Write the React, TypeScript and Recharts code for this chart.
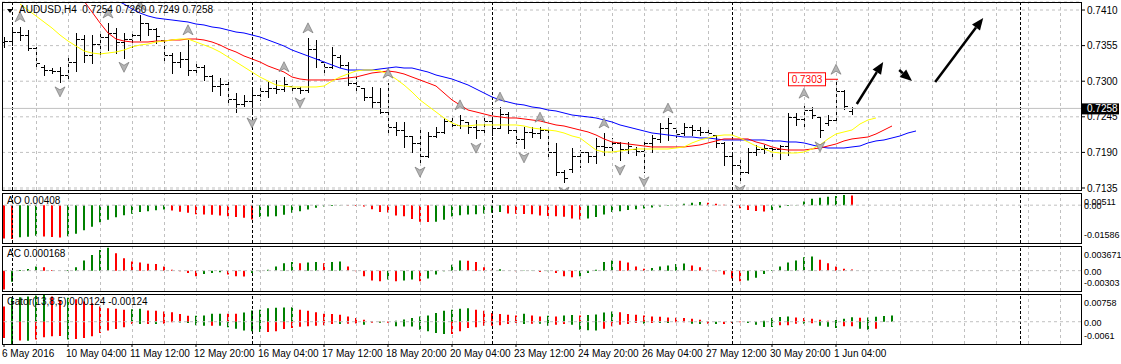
import React from 'react';
import {
  ComposedChart,
  Bar,
  Line,
  Scatter,
  XAxis,
  YAxis,
  CartesianGrid,
  ReferenceLine,
  ReferenceDot,
  Cell,
} from 'recharts';

const FONT = '"Liberation Sans", Arial, sans-serif';
const WIDTH = 1121;
const GREEN = '#008000';
const RED = '#ff0000';
const GRID = '#c0c0c0';

// bar slots: index 0 = 9 May 00:00, one slot per H4 bar
const FIRST_BAR = -1;
const LAST_SLOT = 113;
const X_DOMAIN: [number, number] = [-1.25, 133.625];

const opens = [
  0.7360, 0.7362, 0.7376, 0.7372, 0.7352, 0.7322, 0.7318, 0.7316, 0.7310, 0.7330,
  0.7365, 0.7340, 0.7358, 0.7368, 0.7375, 0.7360, 0.7365, 0.7372, 0.7390, 0.7380,
  0.7364, 0.7340, 0.7330, 0.7335, 0.7318, 0.7322, 0.7308, 0.7292, 0.7295, 0.7272,
  0.7265, 0.7270, 0.7278, 0.7285, 0.7290, 0.7288, 0.7293, 0.7289, 0.7287, 0.7350,
  0.7330, 0.7322, 0.7338, 0.7325, 0.7298, 0.7290, 0.7275, 0.7268, 0.7253, 0.7230,
  0.7225, 0.7215, 0.7205, 0.7185, 0.7215, 0.7222, 0.7238, 0.7232, 0.7237, 0.7230,
  0.7225, 0.7238, 0.7228, 0.7250, 0.7225, 0.7210, 0.7222, 0.7220, 0.7225, 0.7190,
  0.7160, 0.7165, 0.7185, 0.7190, 0.7185, 0.7200, 0.7198, 0.7205, 0.7195, 0.7195,
  0.7192, 0.7205, 0.7210, 0.7228, 0.7228, 0.7220, 0.7230, 0.7225, 0.7222, 0.7217,
  0.7205, 0.7185, 0.7170, 0.7160, 0.7190, 0.7195, 0.7197, 0.7195, 0.7200, 0.7245,
  0.7242, 0.7255, 0.7245, 0.7235, 0.7240, 0.7285, 0.7254,
];
const highs = [
  0.7368, 0.7384, 0.7384, 0.7379, 0.7353, 0.7325, 0.7321, 0.7322, 0.7337, 0.7375,
  0.7371, 0.7371, 0.7375, 0.7390, 0.7382, 0.7375, 0.7376, 0.7402, 0.7390, 0.7382,
  0.7364, 0.7344, 0.7345, 0.7364, 0.7330, 0.7325, 0.7310, 0.7305, 0.7299, 0.7282,
  0.7279, 0.7290, 0.7291, 0.7299, 0.7302, 0.7307, 0.7294, 0.7291, 0.7367, 0.7364,
  0.7330, 0.7353, 0.7341, 0.7330, 0.7307, 0.7290, 0.7291, 0.7290, 0.7297, 0.7237,
  0.7237, 0.7216, 0.7225, 0.7222, 0.7229, 0.7243, 0.7243, 0.7248, 0.7237, 0.7240,
  0.7243, 0.7240, 0.7260, 0.7252, 0.7228, 0.7229, 0.7229, 0.7229, 0.7228, 0.7205,
  0.7163, 0.7197, 0.7194, 0.7191, 0.7212, 0.7220, 0.7212, 0.7206, 0.7206, 0.7198,
  0.7209, 0.7217, 0.7235, 0.7243, 0.7228, 0.7235, 0.7232, 0.7229, 0.7229, 0.7217,
  0.7206, 0.7191, 0.7181, 0.7197, 0.7202, 0.7202, 0.7198, 0.7202, 0.7251, 0.7251,
  0.7266, 0.7260, 0.7245, 0.7248, 0.7303, 0.7286, 0.7260,
];
const lows = [
  0.7353, 0.7356, 0.7364, 0.7348, 0.7322, 0.7310, 0.7313, 0.7299, 0.7305, 0.7317,
  0.7330, 0.7328, 0.7341, 0.7348, 0.7344, 0.7337, 0.7353, 0.7364, 0.7371, 0.7359,
  0.7330, 0.7313, 0.7322, 0.7310, 0.7314, 0.7302, 0.7286, 0.7279, 0.7266, 0.7252,
  0.7262, 0.7251, 0.7271, 0.7276, 0.7282, 0.7286, 0.7286, 0.7282, 0.7283, 0.7322,
  0.7313, 0.7320, 0.7322, 0.7294, 0.7283, 0.7271, 0.7259, 0.7251, 0.7222, 0.7217,
  0.7198, 0.7191, 0.7175, 0.7183, 0.7214, 0.7220, 0.7228, 0.7228, 0.7220, 0.7212,
  0.7217, 0.7217, 0.7228, 0.7220, 0.7205, 0.7197, 0.7214, 0.7212, 0.7181, 0.7155,
  0.7144, 0.7160, 0.7168, 0.7175, 0.7174, 0.7186, 0.7191, 0.7178, 0.7189, 0.7186,
  0.7160, 0.7191, 0.7205, 0.7209, 0.7214, 0.7217, 0.7217, 0.7217, 0.7217, 0.7198,
  0.7171, 0.7160, 0.7147, 0.7158, 0.7186, 0.7189, 0.7181, 0.7181, 0.7186, 0.7232,
  0.7229, 0.7243, 0.7214, 0.7232, 0.7235, 0.7256, 0.7249,
];
const closes = [
  0.7362, 0.7376, 0.7372, 0.7352, 0.7328, 0.7318, 0.7316, 0.7310, 0.7330, 0.7365,
  0.7340, 0.7358, 0.7368, 0.7375, 0.7360, 0.7365, 0.7372, 0.7390, 0.7380, 0.7370,
  0.7340, 0.7330, 0.7335, 0.7318, 0.7322, 0.7308, 0.7292, 0.7295, 0.7272, 0.7265,
  0.7270, 0.7278, 0.7285, 0.7290, 0.7288, 0.7295, 0.7289, 0.7287, 0.7350, 0.7335,
  0.7322, 0.7340, 0.7325, 0.7298, 0.7292, 0.7275, 0.7268, 0.7253, 0.7230, 0.7225,
  0.7215, 0.7205, 0.7185, 0.7215, 0.7222, 0.7238, 0.7232, 0.7240, 0.7230, 0.7225,
  0.7238, 0.7228, 0.7250, 0.7225, 0.7210, 0.7222, 0.7220, 0.7225, 0.7190, 0.7160,
  0.7150, 0.7185, 0.7190, 0.7185, 0.7200, 0.7198, 0.7205, 0.7195, 0.7200, 0.7192,
  0.7205, 0.7212, 0.7228, 0.7235, 0.7218, 0.7230, 0.7225, 0.7222, 0.7220, 0.7205,
  0.7185, 0.7170, 0.7160, 0.7190, 0.7195, 0.7197, 0.7195, 0.7200, 0.7245, 0.7242,
  0.7255, 0.7248, 0.7225, 0.7240, 0.7285, 0.7262, 0.7258,
];

// Alligator lines, already shifted (lips 3, teeth 5, jaw 8)
const LIPS_START = 1;
const lips = [
  0.74193, 0.74100, 0.74008, 0.73915, 0.73822, 0.73714, 0.73621, 0.73544, 0.73467, 0.73436,
  0.73421, 0.73436, 0.73452, 0.73482, 0.73529, 0.73560, 0.73575, 0.73606, 0.73621, 0.73637,
  0.73652, 0.73652, 0.73606, 0.73560, 0.73513, 0.73452, 0.73374, 0.73297, 0.73220, 0.73142,
  0.73065, 0.73003, 0.72942, 0.72926, 0.72911, 0.72911, 0.72911, 0.72911, 0.72926, 0.73003,
  0.73065, 0.73112, 0.73158, 0.73173, 0.73173, 0.73158, 0.73112, 0.73034, 0.72942, 0.72834,
  0.72710, 0.72617, 0.72525, 0.72432, 0.72355, 0.72308, 0.72308, 0.72324, 0.72324, 0.72324,
  0.72324, 0.72324, 0.72324, 0.72308, 0.72277, 0.72262, 0.72246, 0.72231, 0.72200, 0.72154,
  0.72123, 0.72030, 0.71937, 0.71906, 0.71906, 0.71922, 0.71937, 0.71953, 0.71953, 0.71953,
  0.71953, 0.71953, 0.71968, 0.71984, 0.72046, 0.72092, 0.72123, 0.72154, 0.72169, 0.72169,
  0.72123, 0.72061, 0.71999, 0.71953, 0.71906, 0.71891, 0.71891, 0.71891, 0.71906, 0.71953,
  0.72015, 0.72108, 0.72185, 0.72216, 0.72246, 0.72339, 0.72401, 0.72432,
];
const TEETH_START = 9;
const teeth = [
  0.74240, 0.74070, 0.73900, 0.73745, 0.73652, 0.73621, 0.73606, 0.73606, 0.73606, 0.73621,
  0.73621, 0.73637, 0.73637, 0.73652, 0.73652, 0.73637, 0.73606, 0.73560, 0.73498, 0.73452,
  0.73390, 0.73344, 0.73297, 0.73235, 0.73189, 0.73142, 0.73065, 0.73034, 0.73019, 0.73019,
  0.73019, 0.73019, 0.73034, 0.73050, 0.73065, 0.73096, 0.73127, 0.73142, 0.73158, 0.73142,
  0.73112, 0.73065, 0.73019, 0.72973, 0.72926, 0.72818, 0.72710, 0.72633, 0.72555, 0.72525,
  0.72494, 0.72463, 0.72448, 0.72432, 0.72432, 0.72417, 0.72401, 0.72386, 0.72355, 0.72324,
  0.72308, 0.72277, 0.72246, 0.72216, 0.72169, 0.72108, 0.72061, 0.72046, 0.72030, 0.72015,
  0.71999, 0.71984, 0.71984, 0.71984, 0.71984, 0.71984, 0.71999, 0.72015, 0.72046, 0.72077,
  0.72108, 0.72108, 0.72108, 0.72108, 0.72061, 0.72030, 0.71984, 0.71953, 0.71937, 0.71937,
  0.71937, 0.71953, 0.71968, 0.71999, 0.72030, 0.72077, 0.72108, 0.72123, 0.72138, 0.72185,
  0.72246, 0.72308,
];
const JAW_START = 13;
const jaw = [
  0.74255, 0.74193, 0.74116, 0.74054, 0.74008, 0.73977, 0.73961, 0.73946, 0.73930, 0.73915,
  0.73884, 0.73869, 0.73838, 0.73822, 0.73791, 0.73760, 0.73745, 0.73714, 0.73683, 0.73637,
  0.73591, 0.73544, 0.73482, 0.73436, 0.73390, 0.73344, 0.73297, 0.73251, 0.73204, 0.73173,
  0.73173, 0.73173, 0.73173, 0.73189, 0.73204, 0.73220, 0.73204, 0.73204, 0.73173, 0.73142,
  0.73096, 0.73065, 0.73034, 0.72988, 0.72942, 0.72880, 0.72818, 0.72756, 0.72710, 0.72679,
  0.72648, 0.72633, 0.72602, 0.72586, 0.72555, 0.72540, 0.72509, 0.72478, 0.72463, 0.72448,
  0.72432, 0.72401, 0.72370, 0.72324, 0.72293, 0.72262, 0.72231, 0.72200, 0.72185, 0.72169,
  0.72154, 0.72138, 0.72138, 0.72123, 0.72123, 0.72108, 0.72092, 0.72092, 0.72092, 0.72092,
  0.72092, 0.72092, 0.72077, 0.72077, 0.72061, 0.72061, 0.72046, 0.72015, 0.71984, 0.71968,
  0.71968, 0.71968, 0.71984, 0.71999, 0.72046, 0.72077, 0.72092, 0.72123, 0.72154, 0.72200,
  0.72231,
];

const aoValues = [
  -0.0140, -0.0142, -0.0135, -0.0132, -0.0128, -0.0131, -0.0133, -0.0136, -0.0130, -0.0120,
  -0.0105, -0.0090, -0.0072, -0.0061, -0.0051, -0.0042, -0.0036, -0.0029, -0.0025, -0.0021,
  -0.0018, -0.0022, -0.0028, -0.0032, -0.0038, -0.0039, -0.0040, -0.0043, -0.0046, -0.0050,
  -0.0053, -0.0060, -0.0050, -0.0047, -0.0046, -0.0040, -0.0032, -0.0025, -0.0018, -0.0011,
  -0.0006, -0.0003, -0.0001, -0.0002, -0.0003, -0.0006, -0.0017, -0.0029, -0.0031, -0.0043,
  -0.0046, -0.0058, -0.0069, -0.0071, -0.0069, -0.0061, -0.0047, -0.0042, -0.0039, -0.0038,
  -0.0035, -0.0032, -0.0029, -0.0035, -0.0036, -0.0037, -0.0038, -0.0043, -0.0045, -0.0046,
  -0.0049, -0.0056, -0.0060, -0.0056, -0.0050, -0.0039, -0.0029, -0.0025, -0.0020, -0.0017,
  -0.0014, -0.0010, -0.0006, -0.0002, 0.0001, 0.0006, 0.0010, 0.0013, 0.0010, 0.0006,
  0.0002, -0.0003, -0.0013, -0.0020, -0.0024, -0.0026, -0.0020, -0.0010, -0.0003, 0.0001,
  0.0015, 0.0027, 0.0031, 0.0035, 0.0038, 0.0043, 0.00408,
];
const acValues = [
  -0.0028, -0.00166, 0.0001, 0.00024, 0.00063, 0.00049, 0.0001, -0.00002, 0.0001, 0.0005,
  0.00151, 0.00234, 0.00307, 0.0034, 0.00259, 0.00185, 0.00137, 0.00122, 0.00102, 0.00098,
  0.00063, 0.00015, -0.0001, -0.00034, -0.00083, -0.00049, -0.00034, -0.00024, -0.00059, -0.00083,
  -0.00088, -0.00034, -0.0001, 0.00015, 0.00063, 0.00112, 0.00127, 0.00112, 0.00122, 0.0013,
  0.00112, 0.00127, 0.00137, 0.00063, -0.0001, -0.00083, -0.00146, -0.00156, -0.00132, -0.00156,
  -0.00146, -0.00132, -0.00156, -0.00117, -0.00059, -0.0001, 0.00088, 0.00151, 0.00146, 0.00127,
  0.0005, 0.00015, 0.0002, -0.00002, -0.0001, -0.00005, 0.00001, -0.0002, -0.0001, -0.00034,
  -0.00083, -0.00098, -0.00083, -0.00034, 0.00015, 0.00127, 0.00151, 0.00146, 0.00122, 0.00063,
  0.00029, 0.00039, 0.00063, 0.00078, 0.00098, 0.00107, 0.00078, 0.0005, 0.00015, -0.0001,
  -0.00059, -0.00117, -0.00156, -0.00146, -0.00107, -0.00049, 0.0001, 0.00063, 0.00122, 0.00151,
  0.002, 0.0021, 0.00161, 0.00112, 0.00063, 0.00029, 0.000168,
];
const gatorUpper = [
  0.00416, 0.00643, 0.00670, 0.00688, 0.00715, 0.00758, 0.00688, 0.00597, 0.00652, 0.00615,
  0.00552, 0.00507, 0.00416, 0.00371, 0.00353, 0.00326, 0.00344, 0.00353, 0.00308, 0.00299,
  0.00281, 0.00262, 0.00208, 0.00163, 0.00165, 0.00172, 0.00217, 0.00220, 0.00217, 0.00215,
  0.00253, 0.00308, 0.00326, 0.00371, 0.00380, 0.00389, 0.00398, 0.00326, 0.00299, 0.00262,
  0.00217, 0.00208, 0.00190, 0.00145, 0.00100, 0.00054, 0.00018, 0.00009, 0.00005, 0.00027,
  0.00063, 0.00100, 0.00145, 0.00172, 0.00235, 0.00299, 0.00326, 0.00353, 0.00371, 0.00326,
  0.00299, 0.00235, 0.00208, 0.00190, 0.00172, 0.00217, 0.00172, 0.00145, 0.00163, 0.00145,
  0.00172, 0.00181, 0.00172, 0.00181, 0.00199, 0.00253, 0.00281, 0.00262, 0.00208, 0.00190,
  0.00172, 0.00145, 0.00136, 0.00118, 0.00109, 0.00100, 0.00081, 0.00054, 0.00018, 0.00002,
  0.00001, 0.00009, 0.00003, 0.00009, 0.00002, 0.00027, 0.00100, 0.00127, 0.00145, 0.00118,
  0.00100, 0.00081, 0.00054, 0.00027, 0.00045, 0.00081, 0.00124, 0.00109, 0.00118, 0.00136,
  0.00154, 0.00172,
];
const gatorLower = [
  -0.00443, -0.0061, -0.00516, -0.00520, -0.00489, -0.00425, -0.00398, -0.00390, -0.00489, -0.00471,
  -0.00443, -0.00398, -0.00308, -0.00244, -0.00199, -0.00154, -0.00063, -0.00065, -0.00062, -0.00064,
  -0.00054, -0.00018, -0.00019, -0.00036, -0.00100, -0.00109, -0.00108, -0.00110, -0.00154, -0.00190,
  -0.00244, -0.00262, -0.00281, -0.00280, -0.00262, -0.00199, -0.00172, -0.00136, -0.00127, -0.00109,
  -0.00100, -0.00063, -0.00064, -0.00054, -0.00052, -0.00081, -0.00027, -0.00028, -0.00026, -0.00127,
  -0.00128, -0.00129, -0.00217, -0.00262, -0.00308, -0.00335, -0.00334, -0.00262, -0.00172, -0.00154,
  -0.00109, -0.00108, -0.00100, -0.00063, -0.00036, -0.00063, -0.00054, -0.00055, -0.00109, -0.00081,
  -0.00063, -0.00081, -0.00217, -0.00235, -0.00244, -0.00190, -0.00127, -0.00081, -0.00063, -0.00036,
  -0.00054, -0.00036, -0.00037, -0.00038, -0.00018, -0.00017, -0.00054, -0.00063, -0.00054, -0.00063,
  -0.00062, -0.00036, -0.00018, -0.00036, -0.00081, -0.00145, -0.00146, -0.00100, -0.00099, -0.00054,
  -0.00055, -0.00045, -0.00109, -0.00136, -0.00172, -0.00127, -0.00124, -0.00190, -0.00217, -0.00190,
];

const upFractals = [1, 12, 16, 22, 34, 37, 47, 56, 61, 66, 74, 82, 99, 103];
const downFractals = [6, 14, 30, 36, 51, 58, 64, 69, 76, 79, 91, 101];

const priceTicks = [0.741, 0.7355, 0.73, 0.7245, 0.719, 0.7135];
const PRICE_DOMAIN: [number, number] = [0.71319, 0.74224];
const LAST_PRICE = 0.7258;
const markedHigh = { i: 103, price: 0.7303 };
const trendArrows = [
  { x1: 105.6, y1: 0.72648, x2: 108.9, y2: 0.73297 },
  { x1: 110.9, y1: 0.73173, x2: 112.5, y2: 0.73003 },
  { x1: 115.4, y1: 0.72988, x2: 121.4, y2: 0.73977 },
];

const aoRange = { max: 0.00511, min: -0.01586 };
const acRange = { max: 0.003671, min: -0.00303 };
const gatorRange = { max: 0.00758, min: -0.0061 };

const dateTicks = [-1, 7, 15, 23, 31, 39, 47, 55, 63, 71, 79, 87, 95, 103];
const dateLabels = [
  '6 May 2016', '10 May 04:00', '11 May 12:00', '12 May 20:00', '16 May 04:00',
  '17 May 12:00', '18 May 20:00', '20 May 04:00', '23 May 12:00', '24 May 20:00',
  '26 May 04:00', '27 May 12:00', '30 May 20:00', '1 Jun 04:00',
];
const weekStarts = [0, 30, 60, 90, 126];
const gridSlots = Array.from({ length: 33 }, (_, k) => 3 + 4 * k);

const at = (arr: number[], start: number, i: number) => {
  const k = i - start;
  return k >= 0 && k < arr.length ? arr[k] : null;
};

const rows: any[] = [];
for (let i = FIRST_BAR; i <= LAST_SLOT; i++) {
  const h = at(highs, FIRST_BAR, i);
  const l = at(lows, FIRST_BAR, i);
  rows.push({
    i,
    o: at(opens, FIRST_BAR, i),
    h,
    l,
    c: at(closes, FIRST_BAR, i),
    range: h != null && l != null ? [l, h] : null,
    lips: at(lips, LIPS_START, i),
    teeth: at(teeth, TEETH_START, i),
    jaw: at(jaw, JAW_START, i),
    ao: at(aoValues, FIRST_BAR, i),
    ac: at(acValues, FIRST_BAR, i),
    gu: at(gatorUpper, FIRST_BAR, i),
    gd: at(gatorLower, FIRST_BAR, i),
  });
}

const upData = upFractals.map((i) => ({ i, v: highs[i - FIRST_BAR] }));
const downData = downFractals.map((i) => ({ i, v: lows[i - FIRST_BAR] }));

// MT4 colouring: green when the value grew against the previous bar
const rising = (arr: number[], k: number, useAbs = false) => {
  if (k <= 0 || k >= arr.length) return RED;
  const a = useAbs ? Math.abs(arr[k]) : arr[k];
  const b = useAbs ? Math.abs(arr[k - 1]) : arr[k - 1];
  return a > b ? GREEN : RED;
};

const CrispV = (p: any) => (
  <line
    x1={Math.round(p.x1) + 0.5}
    x2={Math.round(p.x2) + 0.5}
    y1={p.y1}
    y2={p.y2}
    stroke={p.stroke}
    strokeDasharray={p.strokeDasharray}
    strokeWidth={1}
  />
);

const OhlcShape = (p: any) => {
  const d = p.payload;
  if (!d || d.h == null) return null;
  const top = Math.min(p.y, p.y + p.height);
  const span = Math.abs(p.height);
  const cx = Math.round(p.x + p.width / 2);
  const toY = (v: number) => top + ((d.h - v) / (d.h - d.l || 1)) * span;
  return (
    <g fill="#000">
      <rect x={cx} y={Math.round(top)} width={1} height={Math.max(1, Math.round(span) + 1)} />
      <rect x={cx - 3} y={Math.round(toY(d.o))} width={3} height={1} />
      <rect x={cx + 1} y={Math.round(toY(d.c))} width={3} height={1} />
    </g>
  );
};

const FractalMark = (dir: number) => (p: any) => {
  const { cx, cy } = p;
  if (cx == null || cy == null) return null;
  const s = dir;
  const y0 = cy - 10 * s;
  const pts = `${cx},${y0 - 5 * s} ${cx + 5},${y0 + 5 * s} ${cx},${y0 + 2 * s} ${cx - 5},${y0 + 5 * s}`;
  return <polygon points={pts} fill="#b4b4b4" stroke="#6a6a6a" strokeWidth={0.6} />;
};

const ArrowShape = (p: any) => {
  const { x1, y1, x2, y2 } = p;
  const ang = Math.atan2(y2 - y1, x2 - x1);
  const len = 12;
  const half = 5;
  const bx = x2 - len * Math.cos(ang);
  const by = y2 - len * Math.sin(ang);
  const px = -Math.sin(ang) * half;
  const py = Math.cos(ang) * half;
  return (
    <g>
      <line x1={x1} y1={y1} x2={bx} y2={by} stroke="#000" strokeWidth={2.5} />
      <polygon points={`${x2},${y2} ${bx + px},${by + py} ${bx - px},${by - py}`} fill="#000" />
    </g>
  );
};

const HighTag = (p: any) => {
  const { cx, cy } = p;
  if (cx == null) return null;
  return (
    <g>
      <line x1={cx - 10} y1={cy} x2={cx + 2} y2={cy} stroke={RED} />
      <rect x={cx - 47.5} y={cy - 6.5} width={37} height={13} fill="#fff" stroke={RED} />
      <text x={cx - 29} y={cy} dy="0.36em" textAnchor="middle" fontSize={10} fontFamily={FONT} fill={RED}>
        {markedHigh.price.toFixed(4)}
      </text>
    </g>
  );
};

const PriceTag = (p: any) => {
  const vb = p.viewBox;
  if (!vb) return null;
  const x = vb.x + vb.width + 1;
  return (
    <g>
      <rect x={x} y={vb.y - 5} width={37} height={11} fill="#000" />
      <text x={x + 5} y={vb.y} dy="0.36em" fontSize={10} fontFamily={FONT} fill="#fff">
        {LAST_PRICE.toFixed(4)}
      </text>
    </g>
  );
};

const SideTick = (range: { max: number; min: number }) => (p: any) => {
  const v = p.payload.value;
  const dy = v === range.max ? 9 : v === range.min ? -8 : 1;
  return (
    <text x={p.x} y={p.y + dy} dy="0.355em" fontSize={9} fontFamily={FONT} fill="#000" textAnchor="start">
      {v === 0 ? '0.00' : String(v)}
    </text>
  );
};

const DateTick = (p: any) => {
  const k = dateTicks.indexOf(p.payload.value);
  return (
    <text x={p.x - 2} y={p.y} dy="0.71em" fontSize={10} fontFamily={FONT} fill="#000" textAnchor="start">
      {dateLabels[k]}
    </text>
  );
};

const verticalGuides = () => [
  ...gridSlots.map((g) => (
    <ReferenceLine key={`g${g}`} x={g} stroke={GRID} strokeDasharray="3 3" shape={CrispV} ifOverflow="visible" />
  )),
  ...weekStarts.map((w) => (
    <ReferenceLine key={`w${w}`} x={w} stroke="#000" strokeDasharray="3 2" shape={CrispV} ifOverflow="visible" />
  )),
];

const hiddenX = (
  <XAxis dataKey="i" type="number" domain={X_DOMAIN} allowDataOverflow hide />
);

function Panel({ top, height, range, dataKey, values, label, useAbs }: any) {
  return (
    <div style={{ position: 'absolute', left: 0, top }}>
      <ComposedChart width={WIDTH} height={height} data={rows} margin={{ top: 0, right: 0, bottom: 0, left: 2 }}>
        {hiddenX}
        <YAxis
          orientation="right"
          width={40}
          type="number"
          domain={[range.min, range.max]}
          allowDataOverflow
          ticks={[range.max, 0, range.min]}
          interval={0}
          axisLine={false}
          tickLine={false}
          tickMargin={3}
          tickSize={0}
          tick={SideTick(range)}
        />
        {verticalGuides()}
        <ReferenceLine y={0} stroke={GRID} strokeDasharray="3 3" />
        <Bar dataKey={dataKey} barSize={2} isAnimationActive={false}>
          {rows.map((r, k) => (
            <Cell key={k} fill={rising(values, k, useAbs)} />
          ))}
        </Bar>
      </ComposedChart>
      <div style={frameStyle(0, height)} />
      <div style={labelStyle(8)}>{label}</div>
    </div>
  );
}

const frameStyle = (top: number, height: number): React.CSSProperties => ({
  position: 'absolute',
  left: 2,
  top,
  width: 1080,
  height: height + 1,
  border: '1px solid #000',
  boxSizing: 'border-box',
  pointerEvents: 'none',
});

const labelStyle = (center: number): React.CSSProperties => ({
  position: 'absolute',
  left: 7,
  top: center - 6,
  height: 12,
  lineHeight: '12px',
  fontSize: 10,
  fontFamily: FONT,
  color: '#000',
  whiteSpace: 'pre',
});

export default function App() {
  return (
    <div
      style={{
        position: 'absolute',
        left: 0,
        top: 0,
        width: WIDTH,
        height: 364,
        background: '#fff',
        overflow: 'hidden',
        fontFamily: FONT,
      }}
    >
      <Panel top={193} height={50} range={aoRange} dataKey="ao" values={aoValues} label="AO 0.00408" />
      <Panel top={246} height={45} range={acRange} dataKey="ac" values={acValues} label="AC 0.000168" />

      {/* gator window with the time scale */}
      <div style={{ position: 'absolute', left: 0, top: 294 }}>
        <ComposedChart
          width={WIDTH}
          height={70}
          data={rows}
          stackOffset="sign"
          margin={{ top: 0, right: 0, bottom: 0, left: 2 }}
        >
          <XAxis
            dataKey="i"
            type="number"
            domain={X_DOMAIN}
            allowDataOverflow
            ticks={dateTicks}
            interval={0}
            height={20}
            axisLine={false}
            tickSize={3}
            tickMargin={3}
            tickLine={{ stroke: '#000' }}
            tick={DateTick}
          />
          <YAxis
            orientation="right"
            width={40}
            type="number"
            domain={[gatorRange.min, gatorRange.max]}
            allowDataOverflow
            ticks={[gatorRange.max, 0, gatorRange.min]}
            interval={0}
            axisLine={false}
            tickLine={false}
            tickSize={0}
            tickMargin={3}
            tick={SideTick(gatorRange)}
          />
          {verticalGuides()}
          <ReferenceLine y={0} stroke={GRID} strokeDasharray="3 3" />
          <Bar dataKey="gu" stackId="g" barSize={2} isAnimationActive={false}>
            {rows.map((r, k) => (
              <Cell key={k} fill={rising(gatorUpper, k, true)} />
            ))}
          </Bar>
          <Bar dataKey="gd" stackId="g" barSize={2} isAnimationActive={false}>
            {rows.map((r, k) => (
              <Cell key={k} fill={rising(gatorLower, k, true)} />
            ))}
          </Bar>
        </ComposedChart>
        <div style={frameStyle(0, 50)} />
        <div style={labelStyle(8)}>{'Gator(13,8,5) 0.00124 -0.00124'}</div>
      </div>

      {/* price window, drawn last so its lowest axis label is not clipped */}
      <div style={{ position: 'absolute', left: 0, top: 0 }}>
        <ComposedChart
          width={WIDTH}
          height={198}
          data={rows}
          margin={{ top: 2, right: 0, bottom: 8, left: 2 }}
          style={{ overflow: 'visible' }}
        >
          {hiddenX}
          <YAxis
            orientation="right"
            width={40}
            type="number"
            domain={PRICE_DOMAIN}
            allowDataOverflow
            ticks={priceTicks}
            interval={0}
            axisLine={false}
            tickSize={4}
            tickMargin={2}
            tickLine={{ stroke: '#000' }}
            tick={{ fontSize: 10, fill: '#000', fontFamily: FONT }}
            tickFormatter={(v: number) => v.toFixed(4)}
          />
          <CartesianGrid vertical={false} stroke={GRID} strokeDasharray="3 3" />
          {verticalGuides()}
          <ReferenceLine y={LAST_PRICE} stroke="#c0c0c0" label={PriceTag} />
          <Line dataKey="jaw" stroke="#0000ff" strokeWidth={1} dot={false} activeDot={false} isAnimationActive={false} />
          <Line dataKey="teeth" stroke="#ff0000" strokeWidth={1} dot={false} activeDot={false} isAnimationActive={false} />
          <Line dataKey="lips" stroke="#ffff00" strokeWidth={1} dot={false} activeDot={false} isAnimationActive={false} />
          <Bar dataKey="range" barSize={6} shape={OhlcShape} isAnimationActive={false} />
          <Scatter data={upData} dataKey="v" shape={FractalMark(1)} isAnimationActive={false} />
          <Scatter data={downData} dataKey="v" shape={FractalMark(-1)} isAnimationActive={false} />
          <ReferenceDot x={markedHigh.i} y={markedHigh.price} shape={HighTag} ifOverflow="visible" />
          {trendArrows.map((a, k) => (
            <ReferenceLine
              key={`a${k}`}
              segment={[{ x: a.x1, y: a.y1 }, { x: a.x2, y: a.y2 }]}
              shape={ArrowShape}
              ifOverflow="visible"
            />
          ))}
        </ComposedChart>
        <div style={frameStyle(2, 188)} />
        <div
          style={{
            position: 'absolute',
            left: 7,
            top: 9,
            width: 0,
            height: 0,
            borderLeft: '3px solid transparent',
            borderRight: '3px solid transparent',
            borderTop: '4px solid #000',
          }}
        />
        <div style={{ ...labelStyle(10), left: 19 }}>{'AUDUSD,H4  0.7254 0.7260 0.7249 0.7258'}</div>
      </div>
    </div>
  );
}
